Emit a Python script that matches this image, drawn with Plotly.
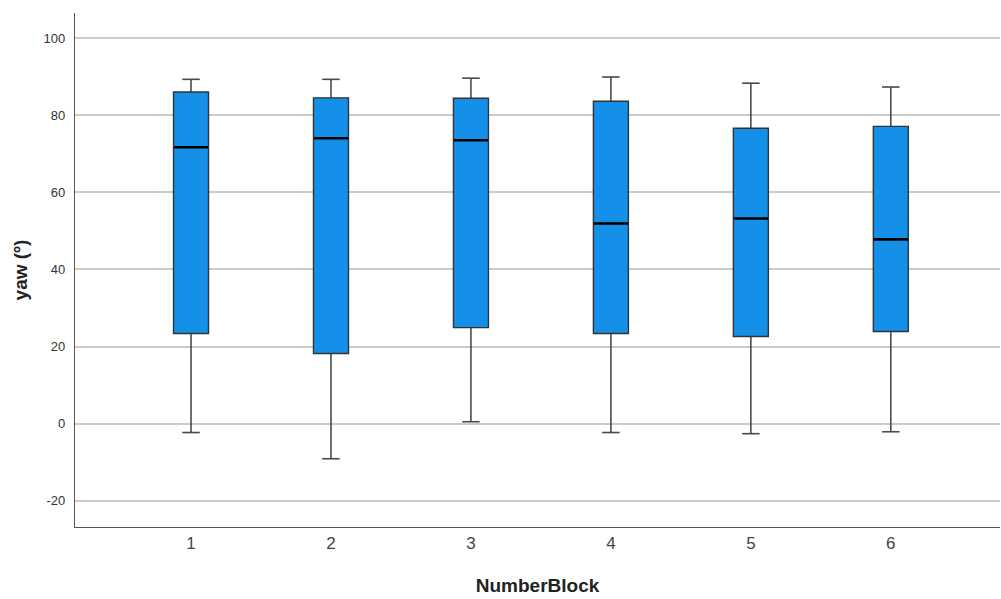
import plotly.graph_objects as go

blocks = [1, 2, 3, 4, 5, 6]
tick_text = ["1", "2", "3", "4", "5", "6"]
upper_whisker = [89.3, 89.3, 89.6, 89.9, 88.3, 87.3]
q3 = [86.0, 84.5, 84.4, 83.6, 76.6, 77.1]
median = [71.7, 74.0, 73.5, 51.9, 53.2, 47.8]
q1 = [23.4, 18.2, 24.9, 23.4, 22.6, 23.9]
lower_whisker = [-2.3, -9.1, 0.5, -2.3, -2.6, -2.1]
y_ticks = [-20, 0, 20, 40, 60, 80, 100]
y_tick_text = [str(v) for v in y_ticks]

fig = go.Figure()
fig.add_trace(go.Box(
    x=blocks, q1=q1, median=median, q3=q3,
    lowerfence=lower_whisker, upperfence=upper_whisker,
    width=0.25, whiskerwidth=0,
    fillcolor="#1490e8",
    line=dict(color="#333333", width=1.4),
    boxpoints=False, hoverinfo="skip", showlegend=False,
))
# whisker caps
fig.add_trace(go.Scatter(
    x=blocks + blocks, y=upper_whisker + lower_whisker, mode="markers",
    marker=dict(symbol="line-ew", size=12.5, line=dict(color="#4a4a4a", width=1.6)),
    hoverinfo="skip", showlegend=False,
))
# median lines
fig.add_trace(go.Scatter(
    x=blocks, y=median, mode="markers",
    marker=dict(symbol="line-ew", size=24.3, line=dict(color="#000000", width=2.6)),
    hoverinfo="skip", showlegend=False,
))

fig.update_layout(
    width=1001, height=599,
    margin=dict(l=75, r=1, t=13, b=72),
    paper_bgcolor="white", plot_bgcolor="white",
    font=dict(family="Liberation Sans, Arial, sans-serif", color="#333"),
)
fig.update_xaxes(
    range=[0.171, 6.78], tickvals=blocks, ticktext=tick_text,
    showgrid=False, zeroline=False,
    showline=True, linecolor="#555", linewidth=1.3,
    ticks="", tickfont=dict(size=17, color="#444"),
    title=dict(text="<b>NumberBlock</b>", font=dict(size=19, color="#222"), standoff=27),
)
fig.update_yaxes(
    range=[-26.8, 106.5], tickvals=y_ticks, ticktext=y_tick_text,
    showgrid=True, gridcolor="#cccccc", gridwidth=1.5, zeroline=False,
    showline=True, linecolor="#555", linewidth=1.3,
    ticks="", ticklabelstandoff=6, tickfont=dict(size=13, color="#333"),
    title=dict(text="<b>yaw (º)</b>", font=dict(size=19, color="#222"), standoff=10),
)

post = (
    "document.body.style.margin='0';"
    "document.body.style.overflow='hidden';"
    "var gd=document.getElementById('{plot_id}');"
    "Plotly.relayout(gd,{width:1001,height:599});"
)
fig.write_html("out.html", post_script=post, config={"displayModeBar": False})
